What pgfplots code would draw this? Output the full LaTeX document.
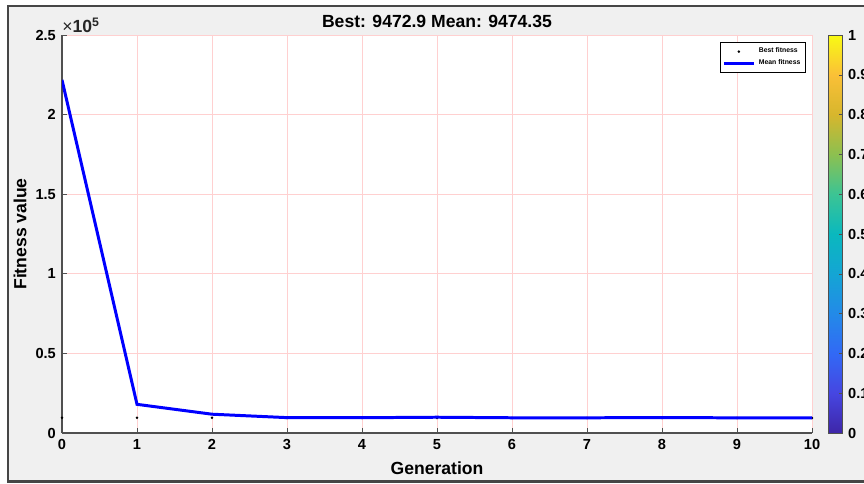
\documentclass[border=0pt]{standalone}
\usepackage{pgfplots}
\pgfplotsset{compat=1.18}
\usepackage{pgfplotstable}
\usepackage{fontspec}
\setmainfont{Liberation Sans}

\definecolor{figbg}{RGB}{240,240,240}
\definecolor{frame}{RGB}{70,70,70}
\definecolor{axln}{RGB}{80,80,80}
\definecolor{gridred}{RGB}{255,208,208}
\definecolor{meanblue}{RGB}{0,0,255}

% generation, best fitness, mean fitness
\pgfplotstableread{
gen best mean
0 9620 221800
1 9540 18000
2 9510 11800
3 9490 9650
4 9480 9600
5 9477 9900
6 9475 9560
7 9474 9540
8 9473.5 9700
9 9473 9520
10 9472.9 9474.35
}\gadata

\newcommand{\tickfont}{\bfseries\fontsize{8.3}{9}\selectfont}

\begin{document}
\begin{tikzpicture}
\fill[white] (0,0) rectangle (17.28,9.68);
\begin{scope}[overlay]
\clip (0,0) rectangle (17.28,9.68);
\filldraw[fill=figbg, draw=frame, line width=1.2pt] (0.16,0.05) rectangle (18,9.56);
\begin{axis}[
  at={(1.24cm,1.02cm)}, anchor=south west,
  scale only axis, width=15cm, height=7.96cm,
  xmin=0, xmax=10, ymin=0, ymax=250000,
  xtick={0,1,...,10},
  ytick={0,50000,100000,150000,200000,250000},
  yticklabels={0,0.5,1,1.5,2,2.5},
  scaled y ticks=false,
  ticklabel style={font=\tickfont},
  /pgf/number format/assume math mode=true,
  axis x line*=bottom, axis y line*=left,
  axis line style={-, draw=axln, line width=0.6pt},
  tick style={draw=axln, line width=0.5pt},
  tick align=inside, major tick length=0.1cm,
  grid=major, grid style={draw=gridred, line width=0.4pt},
  axis background/.style={fill=white},
  clip mode=individual,
  every axis title shift=0pt,
  title={Best: 9472.9 Mean: 9474.35},
  title style={font=\bfseries\fontsize{10}{12}\selectfont, at={(0.5,1)},
               anchor=base, yshift=0.14cm},
  xlabel={Generation}, ylabel={Fitness value},
  xlabel style={font=\bfseries\fontsize{10}{12}\selectfont,
                at={(axis description cs:0.5,0)}, anchor=base, yshift=-0.84cm},
  ylabel style={font=\bfseries\fontsize{10}{12}\selectfont,
                at={(axis description cs:-0.056,0.5)}, anchor=center},
  colormap={parula}{rgb255(0)=(62,38,168); rgb255(1)=(70,70,225);
    rgb255(2)=(50,105,245); rgb255(3)=(35,138,232); rgb255(4)=(20,165,212);
    rgb255(5)=(10,184,190); rgb255(6)=(60,196,148); rgb255(7)=(140,192,80);
    rgb255(8)=(215,182,45); rgb255(9)=(250,192,55); rgb255(10)=(249,250,20)},
  point meta min=0, point meta max=1,
  colorbar,
  colorbar style={
    at={(parent axis.north east)}, anchor=north west, xshift=0.02cm,
    width=0.28cm,
    ytick={0,0.1,0.2,0.3,0.4,0.5,0.6,0.7,0.8,0.9,1},
    yticklabel style={font=\tickfont, /pgf/number format/fixed},
    /pgf/number format/assume math mode=true,
    axis line style={draw=axln},
    ytick pos=right, tick align=inside, major tick length=0.07cm,
    tick style={draw=axln},
  },
  legend style={at={(axis description cs:0.992,0.982)}, anchor=north east,
    font=\bfseries\fontsize{3.9}{4.5}\selectfont, draw=black, line width=0.4pt,
    fill=white, inner sep=1pt, row sep=-1.5pt, cells={anchor=west}},
  legend cell align=left,
]
  \addplot[only marks, mark=*, mark size=0.5pt, black] table[x=gen, y=best] {\gadata};
  \addlegendentry{Best fitness}
  \addplot[meanblue, line width=1.7pt] table[x=gen, y=mean] {\gadata};
  \addlegendentry{Mean fitness}
  \node[anchor=base west, font=\fontsize{10}{12}\selectfont, inner sep=0pt,
        yshift=0.05cm, text=black!85]
    at (axis description cs:0,1) {×\textbf{10}\textsuperscript{\textbf{5}}};
\end{axis}
\end{scope}
\end{tikzpicture}
\end{document}
